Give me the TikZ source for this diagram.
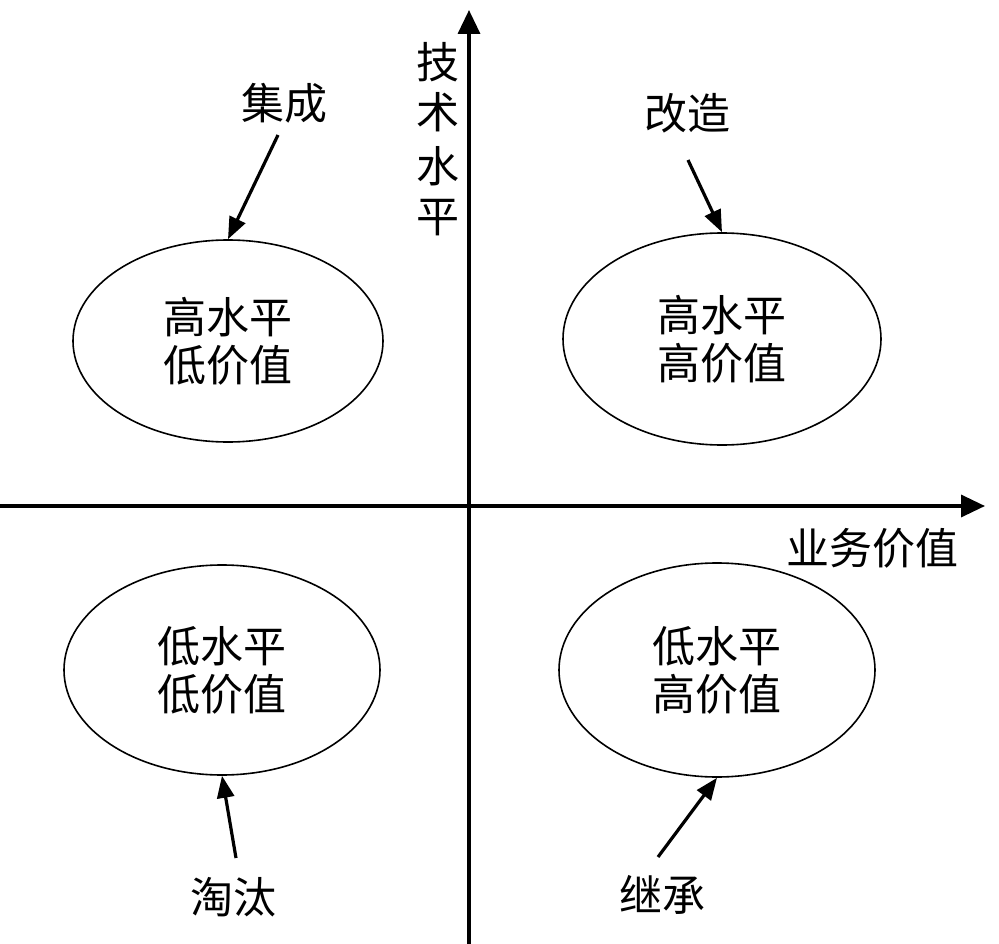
\documentclass[tikz,border=0pt]{standalone}
\usepackage{fontspec}
\setmainfont{Noto Sans CJK SC}
\usetikzlibrary{arrows.meta,shapes.geometric}
\begin{document}
\begin{tikzpicture}[x=1pt,y=-1pt,
  lbl/.style={font=\fontsize{43}{48}\selectfont, inner sep=0pt, align=center},
  quad/.style={draw, ellipse, line width=1.6pt, inner sep=0pt, font=\fontsize{43}{48}\selectfont, align=center},
  axis/.style={line width=3.5pt, -{Triangle[length=24pt,width=22pt]}},
  ptr/.style={line width=3.2pt, -{Triangle[length=22pt,width=17pt]}}]
\useasboundingbox[fill=white] (0,0) rectangle (999,944);
% axes
\coordinate (xs) at (0,506);
\coordinate (xe) at (985,506);
\coordinate (ys) at (469,944);
\coordinate (ye) at (469,10);
\draw[axis] (xs) -- (xe);
\draw[axis] (ys) -- (ye);
% axis labels
\node[lbl] (yl1) at (438,62) {技};
\node[lbl] (yl2) at (438,112) {术};
\node[lbl] (yl3) at (438,166) {水};
\node[lbl] (yl4) at (438,218) {平};
\node[lbl] (xl) at (872,548) {业务价值};
% ellipses
\node[quad, minimum width=310pt, minimum height=202pt] (tl) at (228,341) {高水平\\低价值};
\node[quad, minimum width=318pt, minimum height=212pt] (tr) at (722,339) {高水平\\高价值};
\node[quad, minimum width=316pt, minimum height=210pt] (bl) at (222,670) {低水平\\低价值};
\node[quad, minimum width=316pt, minimum height=214pt] (br) at (717,670) {低水平\\高价值};
% labels
\node[lbl] (l1) at (284,103) {集成};
\node[lbl] (l2) at (687,113) {改造};
\node[lbl] (l3) at (233,897) {淘汰};
\node[lbl] (l4) at (662,895) {继承};
% pointers
\coordinate (s1) at (278,135);
\coordinate (s2) at (688,160);
\coordinate (s3) at (236,858);
\coordinate (s4) at (658,857);
\draw[ptr] (s1) -- (tl.north);
\draw[ptr] (s2) -- (tr.north);
\draw[ptr] (s3) -- (bl.south);
\draw[ptr] (s4) -- (br.south);
\end{tikzpicture}
\end{document}
